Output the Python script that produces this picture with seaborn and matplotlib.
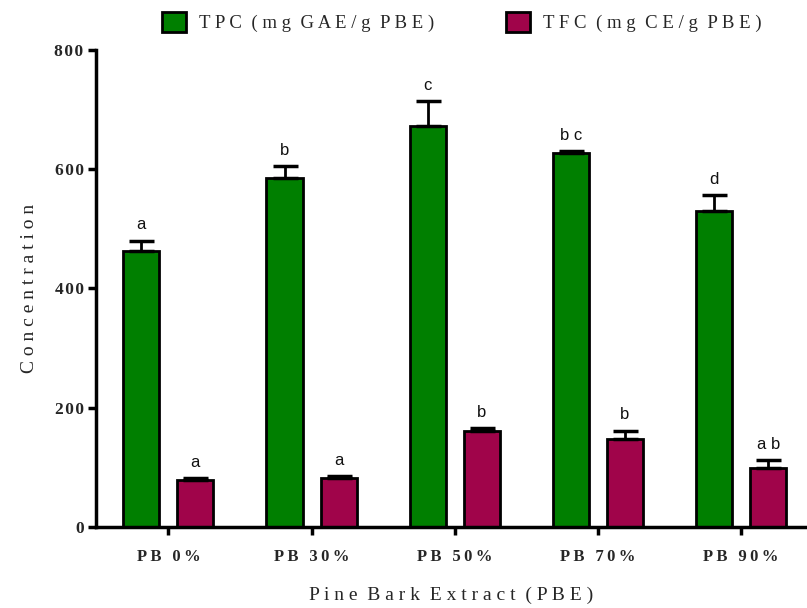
import numpy as np
import pandas as pd
import matplotlib
matplotlib.use("Agg")
import matplotlib.pyplot as plt
import seaborn as sns
from matplotlib.patches import Patch

categories = ["PB 0%", "PB 30%", "PB 50%", "PB 70%", "PB 90%"]
series_names = ["TPC (mg GAE/g PBE)", "TFC (mg CE/g PBE)"]
tpc = [462, 586, 673, 627, 529]
tpc_err = [18, 19, 41, 3, 27]
tfc = [78, 82, 161, 148, 99]
tfc_err = [4, 3, 4, 13, 13]
tpc_letters = ["a", "b", "c", "b c", "d"]
tfc_letters = ["a", "a", "b", "b", "a b"]
y_ticks = [0, 200, 400, 600, 800]
colors = ["#007F00", "#A0044A"]


def spaced(s, sep="\u2009"):
    return sep.join(list(s))


df = pd.DataFrame({
    "cat": categories * 2,
    "series": [series_names[0]] * 5 + [series_names[1]] * 5,
    "val": tpc + tfc,
})

sns.set_style("ticks")
plt.rcParams["font.family"] = ["Liberation Serif", "DejaVu Serif"]

fig = plt.figure(figsize=(8.07, 6.08), dpi=100)
ax = fig.add_axes([0.119, 0.1337, 0.881, 0.7841])

sns.barplot(data=df, x="cat", y="val", hue="series", order=categories,
            hue_order=series_names, palette=colors, width=0.755, gap=0.333,
            errorbar=None, edgecolor="black", linewidth=2, saturation=1,
            legend=False, ax=ax)

errs = tpc_err + tfc_err
vals = tpc + tfc
letters = tpc_letters + tfc_letters
for p, v, e, l in zip(ax.patches, vals, errs, letters):
    xc = p.get_x() + p.get_width() / 2
    ax.errorbar(xc, v, yerr=[[0], [e]], fmt="none", ecolor="black",
                elinewidth=2, capsize=9, capthick=2.5, zorder=1)
    ax.text(xc, v + e + 14, l, ha="center", va="bottom",
            fontsize=12, family=["Liberation Sans", "DejaVu Sans"], color="#111111")

ax.set_ylim(0, 800)
ax.set_xlim(-0.505, 4.46)
ax.set_yticks(y_ticks)
ax.set_yticklabels([spaced(str(t), "\u200a") for t in y_ticks], fontweight="bold", fontsize=12.5)
ax.set_xticks(range(5))
ax.set_xticklabels([spaced(c) for c in categories], fontweight="bold", fontsize=12)
ax.tick_params(axis="both", width=2.5, length=6, color="black", pad=3)
ax.tick_params(axis="x", pad=10)
for s in ["left", "bottom"]:
    ax.spines[s].set_linewidth(2.5)
    ax.spines[s].set_color("black")
sns.despine(ax=ax)

ax.set_ylabel(spaced("Concentration", " "), fontsize=14, labelpad=12)
ax.set_xlabel("P i n e  B a r k  E x t r a c t  ( P B E )", fontsize=14, labelpad=16)

handles = [Patch(facecolor=colors[0], edgecolor="black", linewidth=2),
           Patch(facecolor=colors[1], edgecolor="black", linewidth=2)]
fig.legend(handles, ["T P C  ( m g  G A E / g  P B E )", "T F C  ( m g  C E / g  P B E )"],
           loc="center", bbox_to_anchor=(0.572, 0.963), ncol=2, frameon=False,
           fontsize=13.5, handlelength=1.3, handleheight=1.2, columnspacing=3.8,
           handletextpad=0.7)

fig.savefig("out.png", dpi=100)
